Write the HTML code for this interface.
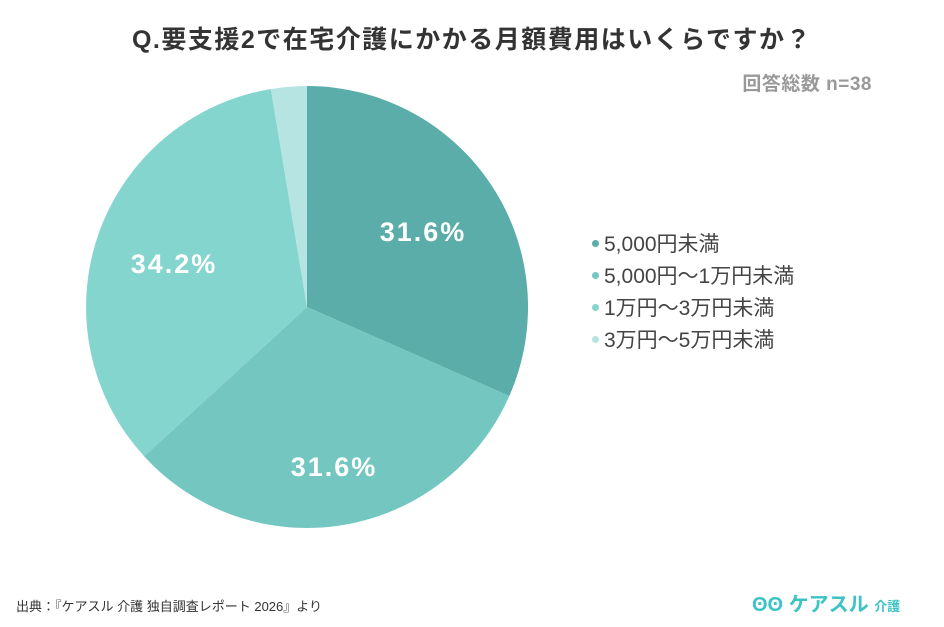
<!DOCTYPE html>
<html><head><meta charset="utf-8"><style>
body{margin:0;width:944px;height:627px;background:#fff;font-family:"Liberation Sans","Noto Sans CJK JP",sans-serif;overflow:hidden;position:relative}
.t{position:absolute;left:0;width:944px;top:20px;text-align:center;font-size:25px;letter-spacing:1.5px;font-weight:bold;color:#333}
.n{position:absolute;right:72px;top:69px;font-size:19px;font-weight:bold;color:#999;letter-spacing:0.5px}
.lg{position:absolute;left:592px;top:229px;font-size:21px;color:#444;line-height:32px}
.lg span{display:inline-block;width:7px;height:7px;border-radius:50%;margin-right:5px;vertical-align:middle;position:relative;top:-2px}
.src{position:absolute;left:16px;top:596px;font-size:13px;color:#333}
.logo{position:absolute;left:752px;top:588px;font-size:20px;font-weight:bold;color:#3cc3c3}
</style></head><body>
<div class="t">Q.要支援2で在宅介護にかかる月額費用はいくらですか？</div>
<div class="n">回答総数 n=38</div>
<svg width="944" height="627" style="position:absolute;left:0;top:0">
<path d="M307,307 L307,86 A221,221 0 0 1 509.3,396 Z" fill="#5aada8"/>
<path d="M307,307 L509.3,396 A221,221 0 0 1 144.1,456.3 Z" fill="#74c6c1"/>
<path d="M307,307 L144.1,456.3 A221,221 0 0 1 270.9,89 Z" fill="#85d5cf"/>
<path d="M307,307 L270.9,89 A221,221 0 0 1 307,86 Z" fill="#b5e4e2"/>
<g font-family="Liberation Sans,sans-serif" font-weight="bold" font-size="27" letter-spacing="2" fill="#fff" text-anchor="middle">
<text x="423" y="241">31.6%</text>
<text x="334" y="476">31.6%</text>
<text x="174" y="273">34.2%</text>
</g>
</svg>
<div class="lg">
<div><span style="background:#5aada8"></span>5,000円未満</div>
<div><span style="background:#74c6c1"></span>5,000円～1万円未満</div>
<div><span style="background:#85d5cf"></span>1万円～3万円未満</div>
<div><span style="background:#b5e4e2"></span>3万円～5万円未満</div>
</div>
<div class="src">出典：『ケアスル 介護 独自調査レポート 2026』より</div>
<div class="logo">ʘʘ ケアスル <span style="font-size:13px">介護</span></div>
</body></html>
